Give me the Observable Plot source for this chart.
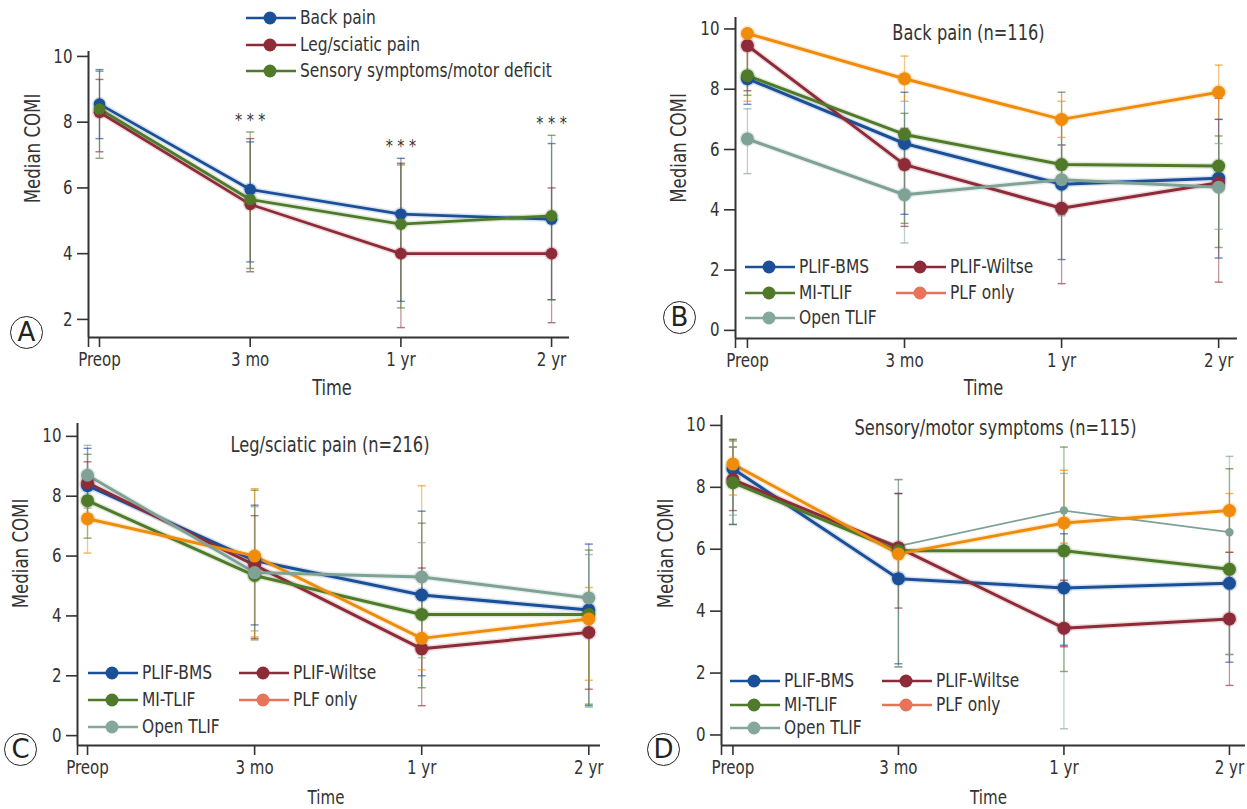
<!DOCTYPE html>
<html>
<head>
<meta charset="utf-8">
<script src="https://cdn.jsdelivr.net/npm/d3@7"></script>
<script src="https://cdn.jsdelivr.net/npm/@observablehq/plot@0.6"></script>
<style>
  body { margin: 0; background: #fff; }
  #root { position: relative; width: 1247px; height: 809px; overflow: hidden; background: #fff;
          font-family: 'Liberation Sans Narrow', 'DejaVu Sans Condensed', Roboto, sans-serif; color: #333; }
  .panel { position: absolute; }
  .leg-sw { position: absolute; overflow: visible; }
  .leg-tx { position: absolute; white-space: nowrap; font-size: 19.5px; line-height: 22px; color: #333;
            transform: scaleX(0.88); transform-origin: 0 50%; }
  .letter { position: absolute; width: 31px; height: 31px; border: 1.6px solid #222; border-radius: 50%;
            font-size: 26px; line-height: 31px; text-align: center; color: #222; background: #fff;
            font-family: 'DejaVu Sans', sans-serif; }
</style>
</head>
<body>
<div id="root"></div>
<script>
// ---------------- data ----------------
const times = ["Preop", "3 mo", "1 yr", "2 yr"];

// Panel A: symptom groups
const aGroups = ["Back pain", "Leg/sciatic pain", "Sensory symptoms/motor deficit"];
const aColors = ["#1b4f98", "#8d2b38", "#4e7a2a"];
const aMedian = [[8.55, 5.95, 5.2, 5.05], [8.3, 5.5, 4.0, 4.0], [8.4, 5.65, 4.9, 5.15]];
const aLow    = [[7.5, 3.75, 2.55, 2.6], [7.1, 3.45, 1.75, 1.9], [6.9, 3.55, 2.35, 2.6]];
const aHigh   = [[9.6, 7.4, 6.9, 7.35], [9.3, 7.5, 6.75, 6.0], [9.55, 7.7, 6.7, 7.6]];
const aSigTimes = ["3 mo", "1 yr", "2 yr"];
const aSigLabel = "* * *";

// Panels B-D: surgical groups
const groups = ["PLIF-BMS", "PLIF-Wiltse", "MI-TLIF", "PLF only", "Open TLIF"];
const groupColors = ["#1b4f98", "#8d2b38", "#4e7a2a", "#f08c0c", "#7fa196"];
const legendColors = ["#1b4f98", "#8d2b38", "#4e7a2a", "#e8735b", "#86a79c"];

const bTitle = "Back pain (n=116)";
const bMedian = [[8.35, 6.2, 4.85, 5.05], [9.45, 5.5, 4.05, 4.9], [8.45, 6.5, 5.5, 5.45], [9.85, 8.35, 7.0, 7.9], [6.35, 4.5, 5.0, 4.75]];
const bLow    = [[7.5, 3.85, 2.35, 2.4], [7.95, 3.45, 1.55, 1.6], [7.8, 3.55, 3.85, 2.75], [7.6, 7.6, 6.4, 7.0], [5.2, 2.9, 3.8, 3.35]];
const bHigh   = [[9.8, 7.9, 6.9, 7.0], [9.95, 6.7, 6.15, 7.7], [9.6, 7.2, 7.9, 6.45], [10.0, 9.1, 7.6, 8.8], [7.35, 6.6, 6.15, 6.2]];

const cTitle = "Leg/sciatic pain (n=216)";
const cMedian = [[8.35, 5.85, 4.7, 4.2], [8.45, 5.7, 2.9, 3.45], [7.85, 5.35, 4.05, 4.05], [7.25, 6.0, 3.25, 3.9], [8.7, 5.45, 5.3, 4.6]];
const cLow    = [[7.4, 3.7, 2.0, 1.0], [7.3, 3.25, 1.0, 1.55], [6.6, 3.2, 1.6, 1.05], [6.1, 3.3, 2.2, 1.85], [7.6, 3.5, 2.6, 0.95]];
const cHigh   = [[9.6, 7.7, 7.5, 6.4], [9.15, 7.35, 5.6, 4.6], [9.4, 8.2, 7.1, 6.2], [8.0, 8.25, 8.35, 4.95], [9.7, 7.65, 6.45, 6.05]];

const dTitle = "Sensory/motor symptoms (n=115)";
const dMedian = [[8.6, 5.05, 4.75, 4.9], [8.25, 6.05, 3.45, 3.75], [8.15, 5.95, 5.95, 5.35], [8.75, 5.85, 6.85, 7.25], [8.2, 6.1, 7.25, 6.55]];
const dLow    = [[6.8, 2.3, 2.9, 2.35], [7.25, 4.1, 2.85, 1.6], [6.8, 2.2, 2.05, 2.6], [7.75, 5.2, 6.2, 5.9], [7.1, 2.2, 0.2, 2.6]];
const dHigh   = [[9.3, 7.8, 6.5, 7.35], [9.55, 7.8, 5.0, 5.9], [9.5, 8.25, 9.3, 8.6], [9.3, 6.2, 8.55, 7.8], [9.3, 8.25, 8.45, 9.0]];

const yLabel = "Median COMI";
const xLabel = "Time";

// ---------------- helpers ----------------
const FONT = "'Liberation Sans Narrow','DejaVu Sans Condensed',Roboto,sans-serif";

function rowsFor(gs, med, lo, hi) {
  const out = [];
  gs.forEach((g, gi) => times.forEach((time, ti) =>
    out.push({group: g, t: ti, time, median: med[gi][ti], lo: lo[gi][ti], hi: hi[gi][ti]})));
  return out;
}

const capSymbol = {
  draw(ctx, size) {
    const r = Math.sqrt(size / Math.PI);
    ctx.moveTo(-r, 0);
    ctx.lineTo(r, 0);
  }
};

function panel(cfg) {
  const {rows, gs, colors, width, height, m, xDomain, yDomain, yTicks,
         title, titleOff, ylabOff, xlabOff, xlabSize = 20.5, extra = [], dotR = 6, lineW = 3, thin = null} = cfg;
  const main = thin ? rows.filter(d => d.group !== thin) : rows;
  const thinRows = thin ? rows.filter(d => d.group === thin) : [];
  const marks = [
    Plot.axisX({ticks: [xDomain[0], 0, 1, 2, 3], tickFormat: i => Number.isInteger(i) ? times[i] : "",
                tickSize: 10, tickPadding: 5, strokeWidth: 1.6, fontSize: 19, label: null}),
    Plot.axisY({ticks: yTicks, tickSize: 11, tickPadding: 5, strokeWidth: 1.6, fontSize: 19, label: null}),
    Plot.ruleX([xDomain[0]], {stroke: "#333", strokeWidth: 2}),
    Plot.ruleY([yDomain[0]], {stroke: "#333", strokeWidth: 2}),
    // error bars
    Plot.ruleX(rows, {x: "t", y1: "lo", y2: "hi", stroke: "group", strokeWidth: 1.3, strokeOpacity: 0.5}),
    Plot.dot(rows, {x: "t", y: "lo", symbol: capSymbol, r: 4, fill: "none", stroke: "group", strokeWidth: 1.4, strokeOpacity: 0.65}),
    Plot.dot(rows, {x: "t", y: "hi", symbol: capSymbol, r: 4, fill: "none", stroke: "group", strokeWidth: 1.4, strokeOpacity: 0.65}),
    // thin series (panel D open TLIF)
    Plot.line(thinRows, {x: "t", y: "median", z: "group", stroke: "group", strokeWidth: 1.8}),
    Plot.dot(thinRows, {x: "t", y: "median", fill: "group", r: 4.2}),
    // halo + main series
    Plot.line(main, {x: "t", y: "median", z: "group", stroke: "group", strokeWidth: lineW + 3, strokeOpacity: 0.16}),
    Plot.line(main, {x: "t", y: "median", z: "group", stroke: "group", strokeWidth: lineW}),
    Plot.dot(main, {x: "t", y: "median", fill: "group", r: dotR + 1.5, fillOpacity: 0.2}),
    Plot.dot(main, {x: "t", y: "median", fill: "group", r: dotR}),
    // labels
    Plot.text([yLabel], {frameAnchor: "left", textAnchor: "middle", lineAnchor: "middle", rotate: -90,
                         dx: ylabOff[0], dy: ylabOff[1], fontSize: 21, fill: "#333"}),
    Plot.text([xLabel], {frameAnchor: "bottom", lineAnchor: "middle", dx: xlabOff[0], dy: xlabOff[1], fontSize: xlabSize, fill: "#333"}),
    ...extra
  ];
  if (title) marks.push(Plot.text([title], {frameAnchor: "top", lineAnchor: "middle", dx: titleOff[0], dy: titleOff[1], fontSize: 20.5, fill: "#333"}));
  return Plot.plot({
    width, height, marginTop: m[0], marginRight: m[1], marginBottom: m[2], marginLeft: m[3],
    style: {fontFamily: FONT, fontSize: "19px", color: "#333", background: "transparent", overflow: "visible"},
    x: {type: "linear", domain: xDomain},
    y: {type: "linear", domain: yDomain},
    color: {domain: gs, range: colors},
    marks
  });
}

const root = document.getElementById("root");
function place(node, left, top) {
  const div = document.createElement("div");
  div.className = "panel";
  div.style.left = left + "px";
  div.style.top = top + "px";
  div.appendChild(node);
  root.appendChild(div);
}

function legend(labels, colors, layout) {
  const {cols, rows, lineW = 50, dotX = 24, textGap = 4} = layout;
  labels.forEach((lab, i) => {
    const c = i % cols.length, r = Math.floor(i / cols.length);
    const x = cols[c], y = rows[r];
    const ns = "http://www.w3.org/2000/svg";
    const svg = document.createElementNS(ns, "svg");
    svg.setAttribute("class", "leg-sw");
    svg.setAttribute("width", lineW);
    svg.setAttribute("height", 16);
    svg.style.left = x + "px";
    svg.style.top = (y - 8) + "px";
    const ln = document.createElementNS(ns, "line");
    ln.setAttribute("x1", 0); ln.setAttribute("x2", lineW);
    ln.setAttribute("y1", 8); ln.setAttribute("y2", 8);
    ln.setAttribute("stroke", colors[i]); ln.setAttribute("stroke-width", 2.6);
    svg.appendChild(ln);
    const ci = document.createElementNS(ns, "circle");
    ci.setAttribute("cx", dotX); ci.setAttribute("cy", 8); ci.setAttribute("r", 6.5);
    ci.setAttribute("fill", colors[i]);
    svg.appendChild(ci);
    root.appendChild(svg);
    const tx = document.createElement("div");
    tx.className = "leg-tx";
    tx.textContent = lab;
    tx.style.left = (x + lineW + textGap) + "px";
    tx.style.top = (y - 11) + "px";
    root.appendChild(tx);
  });
}

function letter(ch, cx, cy) {
  const d = document.createElement("div");
  d.className = "letter";
  d.textContent = ch;
  d.style.left = (cx - 17) + "px";
  d.style.top = (cy - 17) + "px";
  root.appendChild(d);
}

// ---------------- panel A ----------------
const aRows = rowsFor(aGroups, aMedian, aLow, aHigh);
const aSig = aSigTimes.map(time => {
  const t = times.indexOf(time);
  return {t, y: d3.max(aRows.filter(d => d.t === t), d => d.hi)};
});
place(panel({
  rows: aRows, gs: aGroups, colors: aColors, width: 620, height: 405, m: [51, 51, 68, 88],
  xDomain: [-0.073, 3.119], yDomain: [1.45, 10.15], yTicks: [2, 4, 6, 8, 10],
  ylabOff: [-55, -46], xlabOff: [3, 51], dotR: 5.8, lineW: 2.8,
  extra: [Plot.text(aSig, {x: "t", y: "y", text: () => aSigLabel, dy: -12, fontSize: 18, fill: "#333"})]
}), 0, 0);
legend(aGroups, aColors, {cols: [246], rows: [18, 45, 71]});
letter("A", 27, 333);

// ---------------- panel B ----------------
place(panel({
  rows: rowsFor(groups, bMedian, bLow, bHigh), gs: groups, colors: groupColors,
  width: 627, height: 405, m: [17, 10, 67, 115],
  xDomain: [-0.076, 3.12], yDomain: [-0.27, 10.38], yTicks: [0, 2, 4, 6, 8, 10],
  title: bTitle, titleOff: [-18, 16], ylabOff: [-56, -30], xlabOff: [-3, 50], dotR: 6.5
}), 620, 0);
legend(groups, legendColors, {cols: [745, 896], rows: [267, 293, 318]});
letter("B", 680, 318);

// ---------------- panel C ----------------
place(panel({
  rows: rowsFor(groups, cMedian, cLow, cHigh), gs: groups, colors: groupColors,
  width: 620, height: 404, m: [18, 20, 64, 77],
  xDomain: [-0.06, 3.07], yDomain: [-0.33, 10.43], yTicks: [0, 2, 4, 6, 8, 10],
  title: cTitle, titleOff: [-9, 22], ylabOff: [-56, -31], xlabOff: [-13, 52], xlabSize: 19, dotR: 6.5
}), 0, 405);
legend(groups, legendColors, {cols: [88, 239], rows: [673, 700, 727]});
letter("C", 21, 750);

// ---------------- panel D ----------------
place(panel({
  rows: rowsFor(groups, dMedian, dLow, dHigh), gs: groups, colors: groupColors,
  width: 627, height: 404, m: [10, 2, 64, 101],
  xDomain: [-0.069, 3.097], yDomain: [-0.34, 10.32], yTicks: [0, 2, 4, 6, 8, 10],
  title: dTitle, titleOff: [12, 13], ylabOff: [-55, -27], xlabOff: [5, 52], xlabSize: 19, dotR: 6.5,
  thin: "Open TLIF"
}), 620, 405);
legend(groups, legendColors, {cols: [730, 882], rows: [681, 705, 728]});
letter("D", 664, 750);

// condense SVG text horizontally to mimic the narrow typeface of the original
root.querySelectorAll("svg text").forEach(t => {
  if (t.querySelector("tspan")) return;
  const L = t.getComputedTextLength();
  if (L > 0) {
    t.setAttribute("textLength", (L * 0.88).toFixed(2));
    t.setAttribute("lengthAdjust", "spacingAndGlyphs");
  }
});
</script>
</body>
</html>
